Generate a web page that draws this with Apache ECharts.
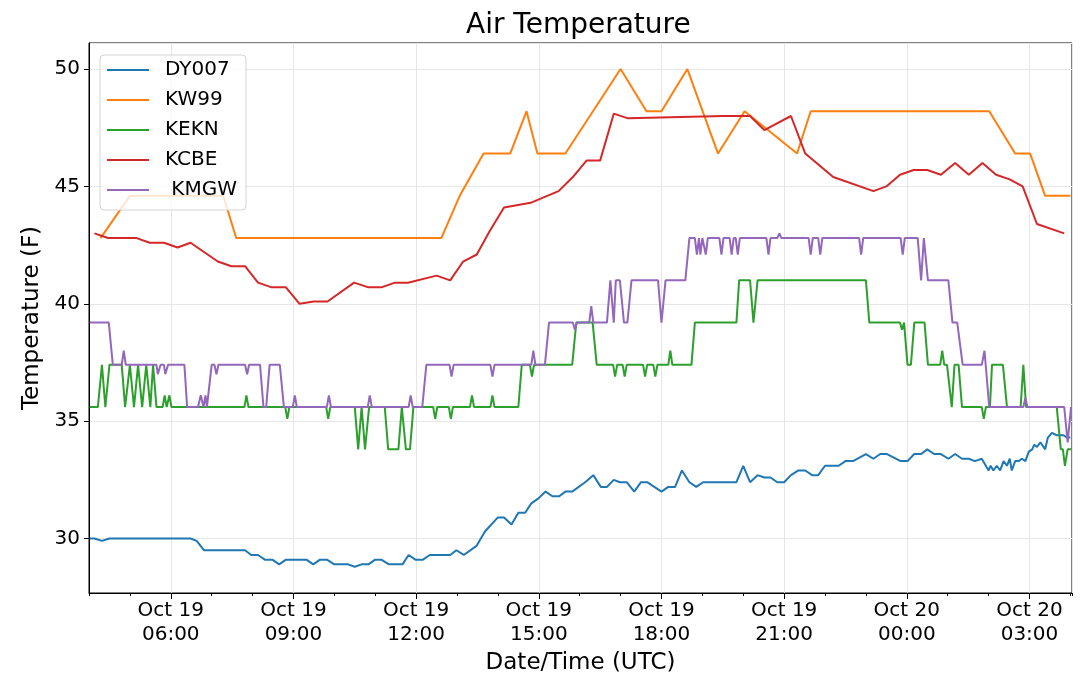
<!DOCTYPE html>
<html>
<head>
<meta charset="utf-8">
<script src="https://cdn.jsdelivr.net/npm/echarts@6/dist/echarts.min.js"></script>
<style>
  html, body { margin: 0; padding: 0; background: #fff; }
  #chart { width: 1080px; height: 692px; }
</style>
</head>
<body>
<div id="chart"></div>
<script>
// times are 'DD HH:MM' in October (UTC), temperatures in F
var dy007Time = ['19 04:01','19 04:08','19 04:19','19 04:30','19 06:29','19 06:38','19 06:49','19 07:49','19 07:58','19 08:08',
  '19 08:18','19 08:29','19 08:39','19 08:49','19 09:19','19 09:29','19 09:39','19 09:49','19 10:00','19 10:20',
  '19 10:30','19 10:40','19 10:50','19 11:00','19 11:09','19 11:20','19 11:40','19 11:49','19 11:59','19 12:10',
  '19 12:20','19 12:50','19 12:59','19 13:10','19 13:29','19 13:41','19 14:00','19 14:09','19 14:20','19 14:30',
  '19 14:40','19 14:49','19 14:59','19 15:10','19 15:20','19 15:30','19 15:39','19 15:49','19 16:08','19 16:20',
  '19 16:31','19 16:40','19 16:50','19 16:59','19 17:09','19 17:20','19 17:30','19 17:39','19 18:00','19 18:10',
  '19 18:20','19 18:30','19 18:41','19 18:51','19 19:01','19 19:50','19 20:00','19 20:10','19 20:21','19 20:31',
  '19 20:40','19 20:50','19 21:00','19 21:10','19 21:21','19 21:31','19 21:41','19 21:50','19 22:00','19 22:20',
  '19 22:30','19 22:41','19 23:00','19 23:11','19 23:21','19 23:31','19 23:51','20 00:01','20 00:11','20 00:21',
  '20 00:30','20 00:40','20 00:50','20 01:01','20 01:11','20 01:21','20 01:31','20 01:40','20 01:50','20 02:00',
  '20 02:03','20 02:07','20 02:12','20 02:17','20 02:22','20 02:27','20 02:31','20 02:34','20 02:39','20 02:44',
  '20 02:49','20 02:54','20 02:59','20 03:04','20 03:07','20 03:11','20 03:16','20 03:23','20 03:27','20 03:33',
  '20 03:40','20 03:50','20 03:55','20 04:00'];
var dy007Temp = [30.0,30.0,29.9,30.0,30.0,29.9,29.5,29.5,29.3,29.3,
  29.1,29.1,28.9,29.1,29.1,28.9,29.1,29.1,28.9,28.9,
  28.8,28.9,28.9,29.1,29.1,28.9,28.9,29.3,29.1,29.1,
  29.3,29.3,29.5,29.3,29.7,30.3,30.9,30.9,30.6,31.1,
  31.1,31.5,31.7,32.0,31.8,31.8,32.0,32.0,32.4,32.7,
  32.2,32.2,32.5,32.4,32.4,32.0,32.4,32.4,32.0,32.2,
  32.2,32.9,32.4,32.2,32.4,32.4,33.1,32.4,32.7,32.6,
  32.6,32.4,32.4,32.7,32.9,32.9,32.7,32.7,33.1,33.1,
  33.3,33.3,33.6,33.4,33.6,33.6,33.3,33.3,33.6,33.6,
  33.8,33.6,33.6,33.4,33.6,33.4,33.4,33.3,33.4,32.9,
  33.1,32.9,33.1,32.9,33.3,33.1,33.4,32.9,33.3,33.3,
  33.4,33.3,33.7,33.8,34.0,33.9,34.1,33.8,34.3,34.5,
  34.4,34.4,34.3,34.3];

var kw99Time = ['19 04:17','19 05:00','19 07:17','19 07:36','19 12:37','19 13:04','19 13:39','19 14:18','19 14:42','19 14:58',
  '19 15:39','19 17:00','19 17:38','19 18:00','19 18:38','19 19:23','19 20:02','19 21:19','19 21:39','20 02:01',
  '20 02:39','20 03:01','20 03:23','20 04:00'];
var kw99Temp = [42.8,44.6,44.6,42.8,42.8,44.6,46.4,46.4,48.2,46.4,
  46.4,50.0,48.2,48.2,50.0,46.4,48.2,46.4,48.2,48.2,
  46.4,46.4,44.6,44.6];

var keknTime = ['19 04:01','19 04:13','19 04:19','19 04:24','19 04:30','19 04:48','19 04:53','19 05:00','19 05:06','19 05:12',
  '19 05:18','19 05:24','19 05:30','19 05:34','19 05:39','19 05:48','19 05:51','19 05:54','19 05:56','19 05:58',
  '19 06:01','19 07:48','19 07:51','19 07:54','19 08:48','19 08:51','19 08:54','19 09:48','19 09:51','19 09:54',
  '19 10:30','19 10:35','19 10:40','19 10:45','19 10:51','19 11:14','19 11:19','19 11:34','19 11:39','19 11:45',
  '19 11:51','19 11:56','19 12:25','19 12:28','19 12:31','19 12:48','19 12:51','19 12:54','19 13:19','19 13:22',
  '19 13:25','19 13:49','19 13:52','19 13:55','19 14:30','19 14:35','19 14:47','19 14:50','19 14:53','19 15:49',
  '19 15:55','19 16:19','19 16:25','19 16:49','19 16:52','19 16:55','19 17:03','19 17:06','19 17:09','19 17:33',
  '19 17:36','19 17:39','19 17:48','19 17:51','19 17:54','19 18:10','19 18:13','19 18:16','19 18:44','19 18:49',
  '19 19:50','19 19:54','19 20:10','19 20:15','19 20:21','19 23:00','19 23:05','19 23:50','19 23:53','19 23:56',
  '20 00:01','20 00:06','20 00:11','20 00:26','20 00:31','20 00:49','20 00:52','20 00:55','20 00:59','20 01:06',
  '20 01:10','20 01:16','20 01:21','20 01:50','20 01:53','20 01:56','20 02:02','20 02:05','20 02:21','20 02:27',
  '20 02:47','20 02:51','20 02:55','20 03:40','20 03:46','20 03:49','20 03:52','20 03:56','20 04:01'];
var keknTemp = [35.6,35.6,37.4,35.6,37.4,37.4,35.6,37.4,35.6,37.4,
  35.6,37.4,35.6,37.4,35.6,35.6,36.1,35.6,35.6,36.1,
  35.6,35.6,36.1,35.6,35.6,35.1,35.6,35.6,35.1,35.6,
  35.6,33.8,35.6,33.8,35.6,35.6,33.8,33.8,35.6,33.8,
  33.8,35.6,35.6,35.1,35.6,35.6,35.1,35.6,35.6,36.1,
  35.6,35.6,36.1,35.6,35.6,37.4,37.4,36.9,37.4,37.4,
  39.2,39.2,37.4,37.4,36.9,37.4,37.4,36.9,37.4,37.4,
  36.9,37.4,37.4,36.9,37.4,37.4,38.0,37.4,37.4,39.2,
  39.2,41.0,41.0,39.2,41.0,41.0,39.2,39.2,38.9,39.2,
  37.4,37.4,39.2,39.2,37.4,37.4,38.0,37.4,37.4,35.6,
  37.4,37.4,35.6,35.6,35.1,35.6,35.6,37.4,37.4,35.6,
  35.6,37.4,35.6,35.6,33.8,33.8,33.1,33.8,33.8];

var kcbeTime = ['19 04:08','19 04:28','19 05:10','19 05:29','19 05:50','19 06:10','19 06:29','19 07:09','19 07:29','19 07:49',
  '19 08:08','19 08:28','19 08:49','19 09:09','19 09:30','19 09:50','19 10:29','19 10:50','19 11:09','19 11:29',
  '19 11:48','19 12:30','19 12:50','19 13:09','19 13:29','19 13:48','19 14:09','19 14:48','19 15:29','19 15:50',
  '19 16:10','19 16:30','19 16:50','19 17:11','19 19:31','19 20:10','19 20:31','19 21:10','19 21:31','19 22:12',
  '19 23:11','19 23:30','19 23:50','20 00:10','20 00:30','20 00:50','20 01:11','20 01:31','20 01:51','20 02:11',
  '20 02:31','20 02:50','20 03:11','20 03:51'];
var kcbeTemp = [43.0,42.8,42.8,42.6,42.6,42.4,42.6,41.8,41.6,41.6,
  40.9,40.7,40.7,40.0,40.1,40.1,40.9,40.7,40.7,40.9,
  40.9,41.2,41.0,41.8,42.1,43.1,44.1,44.3,44.8,45.4,
  46.1,46.1,48.1,47.9,48.0,48.0,47.4,48.0,46.4,45.4,
  44.8,45.0,45.5,45.7,45.7,45.5,46.0,45.5,46.0,45.5,
  45.3,45.0,43.4,43.0];

var kmgwTime = ['19 04:01','19 04:29','19 04:35','19 04:48','19 04:51','19 04:54','19 05:39','19 05:41','19 05:45','19 05:50',
  '19 05:52','19 05:56','19 06:20','19 06:24','19 06:40','19 06:44','19 06:48','19 06:51','19 06:53','19 07:00',
  '19 07:04','19 07:07','19 07:10','19 07:49','19 07:52','19 07:55','19 08:11','19 08:16','19 08:20','19 08:25',
  '19 08:40','19 08:46','19 08:59','19 09:02','19 09:05','19 09:49','19 09:52','19 09:55','19 10:49','19 10:52',
  '19 10:55','19 11:49','19 11:52','19 11:55','19 12:09','19 12:15','19 12:49','19 12:52','19 12:55','19 13:49',
  '19 13:52','19 13:55','19 14:49','19 14:52','19 14:55','19 15:09','19 15:15','19 15:50','19 15:53','19 15:56',
  '19 16:14','19 16:17','19 16:20','19 16:40','19 16:45','19 16:50','19 16:53','19 16:59','19 17:05','19 17:10',
  '19 17:16','19 17:55','19 18:00','19 18:06','19 18:35','19 18:41','19 18:49','19 18:52','19 18:55','19 18:57',
  '19 19:00','19 19:02','19 19:05','19 19:08','19 19:25','19 19:28','19 19:31','19 19:40','19 19:43','19 19:46',
  '19 19:49','19 19:52','19 19:55','19 20:34','19 20:37','19 20:40','19 20:50','19 20:53','19 20:56','19 21:36',
  '19 21:39','19 21:42','19 21:50','19 21:53','19 21:56','19 22:50','19 22:53','19 22:56','19 23:51','19 23:54',
  '19 23:57','20 00:16','20 00:21','20 00:25','20 00:31','20 01:01','20 01:07','20 01:14','20 01:22','20 01:50',
  '20 01:54','20 02:01','20 02:51','20 02:54','20 02:57','20 03:51','20 03:56','20 04:01'];
var kmgwTemp = [39.2,39.2,37.4,37.4,38.0,37.4,37.4,37.0,37.4,37.4,
  37.0,37.4,37.4,35.6,35.6,36.1,35.6,36.1,35.6,37.4,
  37.4,37.0,37.4,37.4,37.0,37.4,37.4,35.6,35.6,37.4,
  37.4,35.6,35.6,36.1,35.6,35.6,36.1,35.6,35.6,36.1,
  35.6,35.6,36.1,35.6,35.6,37.4,37.4,36.9,37.4,37.4,
  36.9,37.4,37.4,38.0,37.4,37.4,39.2,39.2,38.9,39.2,
  39.2,39.9,39.2,39.2,41.0,39.2,41.0,41.0,39.2,39.2,
  41.0,41.0,39.2,41.0,41.0,42.8,42.8,42.1,42.8,42.1,
  42.8,42.8,42.1,42.8,42.8,42.1,42.8,42.8,42.1,42.8,
  42.8,42.1,42.8,42.8,42.1,42.8,42.8,43.0,42.8,42.8,
  42.1,42.8,42.8,42.1,42.8,42.8,42.1,42.8,42.8,42.1,
  42.8,42.8,41.0,42.8,41.0,41.0,39.2,39.2,37.4,37.4,
  38.0,35.6,35.6,36.0,35.6,35.6,34.1,35.6];

var stationNames = ['DY007', 'KW99', 'KEKN', 'KCBE', ' KMGW'];
var stationColors = ['#1f77b4', '#ff7f0e', '#2ca02c', '#d62728', '#9467bd'];

var FONT = 'DejaVu Sans';

// 'DD HH:MM' -> hours since Oct 19 00:00
function toHours(s) {
    return (parseInt(s.slice(0, 2), 10) - 19) * 24 + parseInt(s.slice(3, 5), 10) + parseInt(s.slice(6, 8), 10) / 60;
}
function pairs(times, temps) {
    return times.map(function (t, i) { return [toHours(t), temps[i]]; });
}
function pad(n) { return (n < 10 ? '0' : '') + n; }

var seriesData = [
    pairs(dy007Time, dy007Temp),
    pairs(kw99Time, kw99Temp),
    pairs(keknTime, keknTemp),
    pairs(kcbeTime, kcbeTemp),
    pairs(kmgwTime, kmgwTemp)
];

var myChart = echarts.init(document.getElementById('chart'));
myChart.setOption({
    animation: false,
    backgroundColor: '#fff',
    title: {
        text: 'Air Temperature',
        left: 466,
        top: 12,
        padding: 0,
        textStyle: { fontFamily: FONT, fontSize: 28, fontWeight: 'normal', color: '#000' }
    },
    legend: {
        data: stationNames,
        orient: 'vertical',
        left: 100,
        top: 55,
        padding: [5, 9, 10, 7],
        itemGap: 10,
        itemWidth: 42,
        itemHeight: 2,
        icon: 'rect',
        borderColor: '#d4d4d4',
        borderWidth: 1,
        borderRadius: 4,
        backgroundColor: 'rgba(255,255,255,0.8)',
        textStyle: { fontFamily: FONT, fontSize: 20, lineHeight: 20, color: '#000', padding: [0, 0, 0, 11] }
    },
    grid: {
        left: 89, right: 8, top: 43, bottom: 99,
        show: true, borderColor: '#000', borderWidth: 1
    },
    xAxis: [{
        type: 'value',
        min: 4,
        max: 28.04,
        splitNumber: 8,
        minInterval: 3,
        maxInterval: 3,
        name: 'Date/Time (UTC)',
        nameLocation: 'middle',
        nameGap: 55,
        nameTextStyle: { fontFamily: FONT, fontSize: 23, color: '#000' },
        axisLine: { lineStyle: { color: '#000', width: 1 } },
        axisTick: { length: 6, lineStyle: { color: '#000' } },
        axisLabel: {
            fontFamily: FONT, fontSize: 20, lineHeight: 24, color: '#000', margin: 6,
            showMinLabel: false, showMaxLabel: false,
            formatter: function (v) {
                var h = Math.round(v);
                return 'Oct ' + (19 + Math.floor(h / 24)) + '\n' + pad(h % 24) + ':00';
            }
        },
        splitLine: { show: true, lineStyle: { color: '#e6e6e6', width: 1 } }
    }, {
        // hourly minor ticks
        type: 'value',
        min: 4,
        max: 28.04,
        interval: 1,
        position: 'bottom',
        axisLine: { show: false },
        axisTick: { length: 3, lineStyle: { color: '#000' } },
        axisLabel: { show: false },
        splitLine: { show: false }
    }],
    yAxis: {
        type: 'value',
        min: 27.68,
        max: 51.11,
        minInterval: 5,
        maxInterval: 5,
        name: 'Temperature (F)',
        nameLocation: 'middle',
        nameGap: 41,
        nameRotate: 90,
        nameTextStyle: { fontFamily: FONT, fontSize: 23, color: '#000' },
        axisLine: { show: true, lineStyle: { color: '#000', width: 1 } },
        axisTick: { show: true, length: 5, lineStyle: { color: '#000' } },
        axisLabel: { fontFamily: FONT, fontSize: 20, color: '#000', margin: 9, showMinLabel: false, showMaxLabel: false },
        splitLine: { show: true, lineStyle: { color: '#e6e6e6', width: 1 } }
    },
    series: stationNames.map(function (name, i) {
        return {
            name: name,
            type: 'line',
            xAxisIndex: 0,
            data: seriesData[i],
            showSymbol: false,
            symbol: 'none',
            itemStyle: { color: stationColors[i] },
            lineStyle: { color: stationColors[i], width: 2 }
        };
    })
});
</script>
</body>
</html>
